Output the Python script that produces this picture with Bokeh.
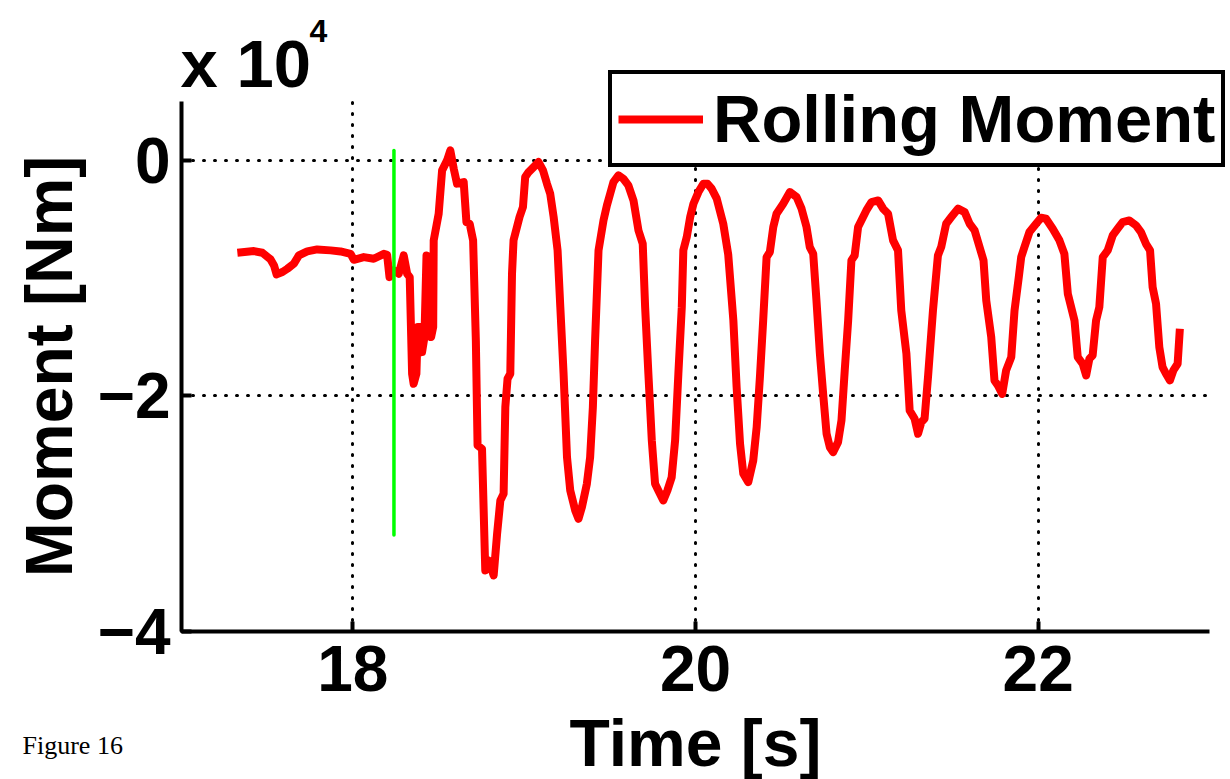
from bokeh.plotting import figure
from bokeh.models import (Range1d, FixedTicker, CustomJSTickFormatter, Label,
                          Legend, LegendItem, Grid)
from bokeh.embed import file_html
from bokeh.resources import INLINE

# ---- data (moment in units of 1e4 Nm, time in s) ----
time_s = [
    17.326, 17.423, 17.472, 17.520, 17.540, 17.555, 17.589, 17.618, 17.656, 17.685,
    17.734, 17.792, 17.870, 17.928, 17.987, 18.006, 18.064, 18.122, 18.181, 18.200,
    18.214, 18.239, 18.268, 18.297, 18.317, 18.332, 18.346, 18.355, 18.371, 18.379,
    18.394, 18.404, 18.418, 18.430, 18.443, 18.457, 18.469, 18.472, 18.501, 18.521,
    18.550, 18.569, 18.589, 18.608, 18.647, 18.663, 18.682, 18.702, 18.718, 18.728,
    18.754, 18.773, 18.793, 18.822, 18.842, 18.861, 18.880, 18.890, 18.903, 18.919,
    18.929, 18.938, 18.958, 18.973, 18.993, 19.006, 19.026, 19.055, 19.084, 19.110,
    19.133, 19.152, 19.172, 19.195, 19.211, 19.230, 19.250, 19.269, 19.298, 19.317,
    19.337, 19.366, 19.385, 19.401, 19.414, 19.434, 19.463, 19.483, 19.502, 19.521,
    19.550, 19.579, 19.608, 19.638, 19.667, 19.692, 19.706, 19.725, 19.745, 19.764,
    19.783, 19.812, 19.836, 19.861, 19.881, 19.900, 19.920, 19.929, 19.949, 19.969,
    19.988, 20.017, 20.046, 20.070, 20.094, 20.124, 20.162, 20.191, 20.221, 20.240,
    20.260, 20.279, 20.308, 20.337, 20.357, 20.376, 20.395, 20.415, 20.434, 20.454,
    20.473, 20.512, 20.551, 20.590, 20.619, 20.648, 20.667, 20.687, 20.706, 20.726,
    20.745, 20.765, 20.784, 20.803, 20.832, 20.852, 20.871, 20.891, 20.910, 20.929,
    20.949, 20.968, 20.997, 21.027, 21.066, 21.095, 21.124, 21.153, 21.182, 21.201,
    21.231, 21.250, 21.279, 21.299, 21.318, 21.337, 21.357, 21.386, 21.415, 21.434,
    21.463, 21.493, 21.532, 21.571, 21.600, 21.629, 21.658, 21.681, 21.697, 21.726,
    21.745, 21.765, 21.790, 21.813, 21.843, 21.862, 21.887, 21.901, 21.920, 21.949,
    21.988, 22.017, 22.046, 22.085, 22.124, 22.153, 22.173, 22.212, 22.231, 22.260,
    22.280, 22.299, 22.318, 22.338, 22.357, 22.377, 22.406, 22.435, 22.464, 22.493,
    22.532, 22.571, 22.600, 22.629, 22.653, 22.668, 22.688, 22.707, 22.726, 22.746,
    22.769, 22.789, 22.814, 22.827,
]
rolling_moment = [
    -0.784, -0.770, -0.784, -0.841, -0.892, -0.968, -0.948, -0.920, -0.877, -0.807,
    -0.773, -0.756, -0.764, -0.773, -0.793, -0.844, -0.821, -0.835, -0.793, -0.801,
    -0.991, -0.934, -0.963, -0.807, -0.963, -0.991, -1.812, -1.897, -1.812, -1.415,
    -1.415, -1.628, -1.500, -0.807, -0.821, -1.500, -1.415, -0.679, -0.453, -0.085,
    0.000, 0.085, -0.071, -0.198, -0.184, -0.524, -0.538, -0.679, -1.529, -2.420,
    -2.449, -3.482, -3.397, -3.524, -3.170, -2.887, -2.831, -2.095, -1.854, -1.812,
    -0.963, -0.679, -0.566, -0.481, -0.396, -0.142, -0.099, -0.057, -0.014, -0.085,
    -0.198, -0.283, -0.481, -0.764, -1.246, -1.812, -2.520, -2.803, -2.972, -3.043,
    -2.944, -2.746, -2.520, -2.095, -1.529, -0.764, -0.510, -0.382, -0.283, -0.184,
    -0.127, -0.156, -0.212, -0.340, -0.594, -0.708, -1.246, -1.812, -2.378, -2.746,
    -2.803, -2.887, -2.803, -2.690, -2.378, -1.812, -1.246, -0.764, -0.651, -0.481,
    -0.368, -0.269, -0.198, -0.198, -0.240, -0.325, -0.538, -0.800, -1.359, -1.925,
    -2.406, -2.661, -2.732, -2.548, -2.265, -1.840, -1.359, -0.821, -0.778, -0.566,
    -0.453, -0.368, -0.269, -0.311, -0.410, -0.566, -0.736, -0.793, -1.189, -1.642,
    -1.982, -2.321, -2.435, -2.477, -2.392, -2.208, -1.783, -1.359, -0.849, -0.807,
    -0.566, -0.510, -0.425, -0.354, -0.340, -0.410, -0.453, -0.679, -0.764, -1.274,
    -1.642, -2.123, -2.194, -2.321, -2.222, -2.194, -1.840, -1.274, -0.807, -0.736,
    -0.538, -0.481, -0.410, -0.439, -0.538, -0.594, -0.736, -0.849, -1.189, -1.500,
    -1.868, -1.911, -1.982, -1.783, -1.670, -1.274, -0.991, -0.821, -0.736, -0.609,
    -0.538, -0.487, -0.495, -0.580, -0.679, -0.793, -1.132, -1.359, -1.670, -1.727,
    -1.826, -1.684, -1.656, -1.359, -1.246, -0.821, -0.764, -0.637, -0.580, -0.524,
    -0.510, -0.552, -0.609, -0.708, -0.764, -1.076, -1.217, -1.585, -1.755, -1.812,
    -1.868, -1.783, -1.727, -1.430,
]
event_time = 18.24
event_top = 0.085
event_bottom = -3.18

x_ticks = [18, 20, 22]
y_ticks = [-4, -2, 0]
x_limits = (17, 23)
y_limits = (-4, 0.5)
series_name = "Rolling Moment"

FONT = "Liberation Sans"
W, H = 1230, 779
# pixel box of the axes inside the canvas
AX_L, AX_R, AX_T, AX_B = 181, 1209, 101, 631

# frame covers the whole canvas; ranges chosen so the axes box lands at AX_*
sx = (AX_R - AX_L) / (x_limits[1] - x_limits[0])
sy = (AX_B - AX_T) / (y_limits[1] - y_limits[0])
x_range = Range1d(x_limits[0] - AX_L / sx, x_limits[1] + (W - AX_R) / sx)
y_range = Range1d(y_limits[0] - (H - AX_B) / sy, y_limits[1] + AX_T / sy)

p = figure(width=W, height=H, x_range=x_range, y_range=y_range,
           output_backend="svg", toolbar_location=None,
           min_border=0)
p.outline_line_color = None
p.background_fill_color = "white"
p.border_fill_color = "white"

# axes placed at the data edges of the axes box
p.xaxis.fixed_location = y_limits[0]
p.yaxis.fixed_location = x_limits[0]
p.xaxis.bounds = x_limits
p.yaxis.bounds = y_limits
p.xaxis.ticker = FixedTicker(ticks=x_ticks, minor_ticks=[])
p.yaxis.ticker = FixedTicker(ticks=y_ticks, minor_ticks=[])

for ax in (p.xaxis, p.yaxis):
    ax.axis_line_width = 4
    ax.axis_line_color = "black"
    ax.major_tick_in = 10
    ax.major_tick_out = 0
    ax.major_tick_line_width = 4
    ax.minor_tick_line_color = None
    ax.major_label_text_font = FONT
    ax.major_label_text_font_style = "bold"
    ax.major_label_text_font_size = "64px"
    ax.major_label_text_color = "black"
    ax.axis_label_text_font = FONT
    ax.axis_label_text_font_style = "bold"
    ax.axis_label_text_font_size = "66px"
    ax.axis_label_text_color = "black"

p.xaxis.axis_label = "Time [s]"
p.xaxis.major_label_standoff = 14
p.xaxis.axis_label_standoff = 12
p.yaxis.axis_label = "Moment [Nm]"
p.yaxis.major_label_standoff = 11
p.yaxis.axis_label_standoff = 9
p.yaxis.formatter = CustomJSTickFormatter(
    code="return tick == 0 ? '0' : '\u2212' + Math.abs(tick);")

# dotted grid limited to the axes box
has_cross = "cross_bounds" in Grid.properties()
for g, b, cb in ((p.xgrid, x_limits, y_limits), (p.ygrid, y_limits, x_limits)):
    g.grid_line_color = "black"
    g.grid_line_width = 3
    g.grid_line_dash = "1 10"
    g.grid_line_cap = "round"
    g.bounds = b
    if has_cross:
        g.cross_bounds = cb
if not has_cross:
    p.xgrid.visible = False
    p.ygrid.visible = False
    p.segment(x0=x_ticks, x1=x_ticks, y0=[y_limits[0]] * len(x_ticks),
              y1=[y_limits[1]] * len(x_ticks), line_color="black",
              line_width=3, line_dash="1 10", line_cap="round")
    p.segment(x0=[x_limits[0]] * len(y_ticks), x1=[x_limits[1]] * len(y_ticks),
              y0=y_ticks, y1=y_ticks, line_color="black",
              line_width=3, line_dash="1 10", line_cap="round")

# data
r = p.line(time_s, rolling_moment, line_color="#ff0000", line_width=8,
           line_join="round")
p.line([event_time, event_time], [event_top, event_bottom],
       line_color="#00ff00", line_width=3.5, line_cap="round")

legend = Legend(items=[LegendItem(label=series_name, renderers=[r])],
                location=(608, H - 167), orientation="vertical",
                glyph_width=85, glyph_height=40, label_standoff=10,
                padding=6, spacing=0, margin=0,
                label_text_font=FONT, label_text_font_style="bold",
                label_text_font_size="67px", label_text_color="black",
                border_line_color="black", border_line_width=4,
                border_line_alpha=1.0,
                background_fill_color="white", background_fill_alpha=1.0)
p.add_layout(legend)

p.add_layout(Label(x=180, y=H - 63, x_units="screen", y_units="screen",
                   text="x 10", text_font=FONT, text_font_style="bold",
                   text_font_size="67px", text_baseline="alphabetic",
                   text_align="left", text_color="black"))
p.add_layout(Label(x=309, y=H - 30, x_units="screen", y_units="screen",
                   text="4", text_font=FONT, text_font_style="bold",
                   text_font_size="32px", text_baseline="alphabetic",
                   text_align="left", text_color="black"))
p.add_layout(Label(x=22, y=H - 745, x_units="screen", y_units="screen",
                   text="Figure 16", text_font="Liberation Serif",
                   text_font_size="26px", text_baseline="alphabetic",
                   text_align="left", text_color="black"))

open("out.html", "w").write(file_html(p, INLINE))
